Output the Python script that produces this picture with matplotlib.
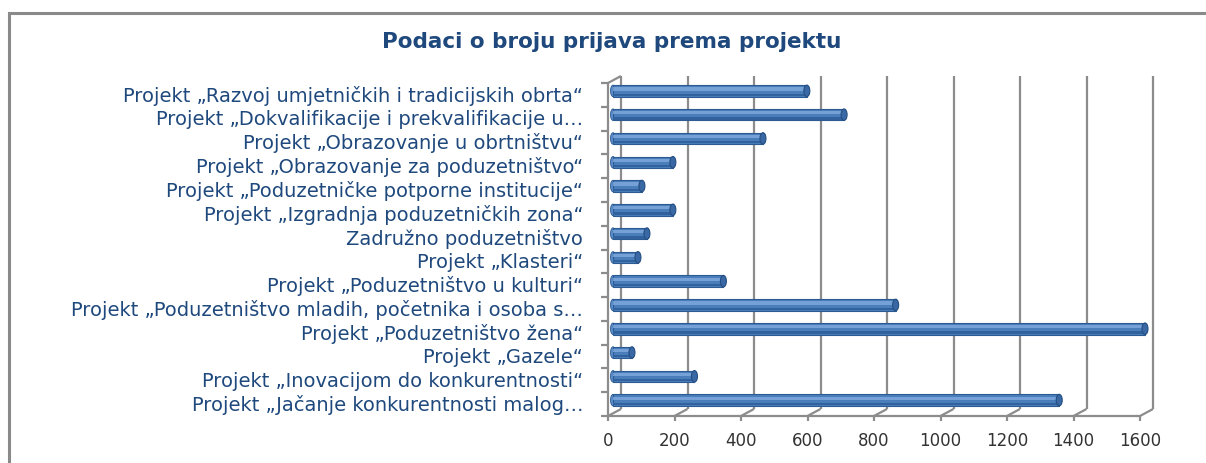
"""Podaci o broju prijava prema projektu -- Excel-style 3D horizontal bar chart."""

import numpy as np
import matplotlib
matplotlib.use("Agg")
import matplotlib.pyplot as plt
from matplotlib.patches import Ellipse, Rectangle

# Data ######################################################################

projects = [
    "Projekt „Razvoj umjetničkih i tradicijskih obrta“",
    "Projekt „Dokvalifikacije i prekvalifikacije u…",
    "Projekt „Obrazovanje u obrtništvu“",
    "Projekt „Obrazovanje za poduzetništvo“",
    "Projekt „Poduzetničke potporne institucije“",
    "Projekt „Izgradnja poduzetničkih zona“",
    "Zadružno poduzetništvo",
    "Projekt „Klasteri“",
    "Projekt „Poduzetništvo u kulturi“",
    "Projekt „Poduzetništvo mladih, početnika i osoba s…",
    "Projekt „Poduzetništvo žena“",
    "Projekt „Gazele“",
    "Projekt „Inovacijom do konkurentnosti“",
    "Projekt „Jačanje konkurentnosti malog…",
]
applications = [583, 695, 451, 180, 87, 180, 102, 75, 332, 850, 1600, 57, 245, 1342]
x_ticks = [0, 200, 400, 600, 800, 1000, 1200, 1400, 1600]

title = "Podaci o broju prijava prema projektu"

# Layout (pixels, figure is 1206 x 464 at dpi 100) ##########################

W, H, DPI = 1206, 464, 100
back_left, back_right, back_top, back_bottom = 621, 1153, 77, 410
front_dx, front_dy = -13, 7       # back wall -> front plane, px (down = +)
bar_dx, bar_dy = -8, 3            # back wall -> bar plane, px

text_blue = "#1F497D"
grid_grey = "#8C8C8C"

fig = plt.figure(figsize=(W / DPI, H / DPI), dpi=DPI)
ax = fig.add_axes([back_left / W, 1 - back_bottom / H,
                   (back_right - back_left) / W, (back_bottom - back_top) / H])

n = len(projects)
ax.set_xlim(0, x_ticks[-1])
ax.set_ylim(n - 0.5, -0.5)
for s in ax.spines.values():
    s.set_visible(False)
ax.set_xticks([])
ax.set_yticks([])
ax.patch.set_alpha(0)

# px -> data units
sx = (back_right - back_left) / x_ticks[-1]
sy = (back_bottom - back_top) / n
fdx, fdy = front_dx / sx, front_dy / sy
bdx, bdy = bar_dx / sx, bar_dy / sy
y_bot = n - 0.5

line_kw = dict(color=grid_grey, lw=1.6, clip_on=False, solid_capstyle="butt")

# back wall gridlines + floor diagonals + front ticks
for v in x_ticks:
    ax.plot([v, v], [-0.5, y_bot], **line_kw)
    ax.plot([v, v + fdx], [y_bot, y_bot + fdy], **line_kw)
    ax.plot([v + fdx, v + fdx], [y_bot + fdy, y_bot + fdy + 5 / sy], **line_kw)
ax.plot([fdx, x_ticks[-1] + fdx], [y_bot + fdy, y_bot + fdy], **line_kw)

# left wall: front edge, top diagonal, category ticks
ax.plot([fdx, fdx], [-0.5 + fdy, y_bot + fdy], **line_kw)
ax.plot([0, fdx], [-0.5, -0.5 + fdy], **line_kw)
for b in np.arange(-0.5, n, 1.0):
    ax.plot([fdx, fdx - 7 / sx], [b + fdy, b + fdy], **line_kw)

# cylinder-ish bars
ypos = np.arange(n) + bdy
h = 11.5 / sy
ax.barh(ypos, applications, height=h, left=bdx, color="#4A7EBB",
        edgecolor="#2C5A92", linewidth=0.8, zorder=3, clip_on=False)
ax.barh(ypos - h * 0.17, applications, height=h * 0.28, left=bdx,
        color="#86AEE0", alpha=0.75, linewidth=0, zorder=4, clip_on=False)
ax.barh(ypos + h * 0.33, applications, height=h * 0.2, left=bdx,
        color="#32629E", linewidth=0, zorder=4, clip_on=False)
for yv, val in zip(ypos, applications):
    ax.add_patch(Ellipse((bdx + val, yv), 6 / sx, h, facecolor="#3A68A4",
                         edgecolor="#244E82", lw=0.8, zorder=5, clip_on=False))
    ax.add_patch(Ellipse((bdx, yv), 5 / sx, h, facecolor="#5A8CCB",
                         edgecolor="#2C5A92", lw=0.6, zorder=2, clip_on=False))

# category labels
for i, lab in enumerate(projects):
    ax.annotate(lab, xy=(fdx, i + fdy), xytext=(-18, 0), textcoords="offset points",
                ha="right", va="center", fontsize=14, color=text_blue,
                annotation_clip=False)

# value axis labels
for v in x_ticks:
    ax.annotate(str(v), xy=(v + fdx, y_bot + fdy), xytext=(0, -11),
                textcoords="offset points", ha="center", va="top",
                fontsize=12, color="#333333", annotation_clip=False)

fig.text(612 / W, 1 - 42 / H, title, ha="center", va="center",
         fontsize=15.5, fontweight="bold", color=text_blue)

# chart frame
fig.patches.append(Rectangle((9 / W, -0.1), 1.2, 1 - 14 / H + 0.1, transform=fig.transFigure,
                             fill=False, edgecolor="#8A8A8A", lw=2.2))

fig.savefig("out.png", dpi=DPI)
